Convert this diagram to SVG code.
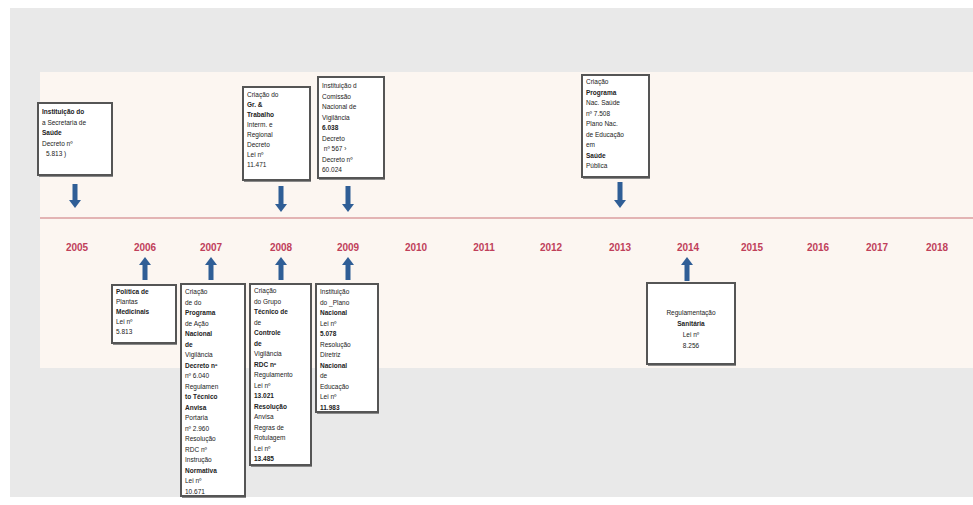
<svg xmlns="http://www.w3.org/2000/svg" width="973" height="505" viewBox="0 0 973 505">
<style>
.yr{font-family:"Liberation Sans",Arial,sans-serif;font-size:10px;font-weight:bold;fill:#c0405a;text-anchor:middle}
.box{fill:#ffffff;stroke:#555555;stroke-width:2}
.sh{fill:#8a8a8a}
.t{font-family:"Liberation Sans",Arial,sans-serif;font-size:6.5px;fill:#222222}
.b{font-weight:bold}
.arr{fill:#2f5e96}
</style>
<rect x="0" y="0" width="973" height="505" fill="#ffffff"/>
<rect x="10" y="8" width="963" height="489" fill="#e9e9e9"/>
<rect x="40" y="72" width="933" height="296" fill="#fcf6f1"/>
<line x1="40" y1="218" x2="973" y2="218" stroke="#e3b4b4" stroke-width="2"/>
<g id="years">
<text class="yr" x="77" y="251">2005</text>
<text class="yr" x="145" y="251">2006</text>
<text class="yr" x="211" y="251">2007</text>
<text class="yr" x="281" y="251">2008</text>
<text class="yr" x="348" y="251">2009</text>
<text class="yr" x="416" y="251">2010</text>
<text class="yr" x="484" y="251">2011</text>
<text class="yr" x="551" y="251">2012</text>
<text class="yr" x="620" y="251">2013</text>
<text class="yr" x="688" y="251">2014</text>
<text class="yr" x="752" y="251">2015</text>
<text class="yr" x="818" y="251">2016</text>
<text class="yr" x="877" y="251">2017</text>
<text class="yr" x="937" y="251">2018</text>
</g>
<g id="connectors">
<path class="arr" d="M72.5 184 H77.5 V200 H81 L75 208 L69 200 H72.5 Z"/>
<path class="arr" d="M278.5 186 H283.5 V204 H287 L281 212 L275 204 H278.5 Z"/>
<path class="arr" d="M345.5 186 H350.5 V204 H354 L348 212 L342 204 H345.5 Z"/>
<path class="arr" d="M617.5 182 H622.5 V200 H626 L620 208 L614 200 H617.5 Z"/>
<path class="arr" d="M145 257 L151 265 H147.5 V280 H142.5 V265 H139 Z"/>
<path class="arr" d="M211 257 L217 265 H213.5 V280 H208.5 V265 H205 Z"/>
<path class="arr" d="M281 257 L287 265 H283.5 V280 H278.5 V265 H275 Z"/>
<path class="arr" d="M348 257 L354 265 H350.5 V280 H345.5 V265 H342 Z"/>
<path class="arr" d="M687 257 L693 265 H689.5 V281 H684.5 V265 H681 Z"/>
</g>
<g id="n2005">
<rect class="sh" x="39" y="174" width="74" height="3"/>
<rect class="box" x="38" y="103" width="74" height="72"/>
<text class="t" x="42" y="114"><tspan class="b">Instituição do</tspan><tspan x="42" dy="10.5">a Secretaria de</tspan><tspan x="42" dy="10.5" class="b">Saúde</tspan><tspan x="42" dy="10.5">Decreto nº</tspan><tspan x="46" dy="10.5">5.813 )</tspan></text>
</g>
<g id="n2008top">
<rect class="sh" x="244" y="179" width="67" height="3"/>
<rect class="box" x="243" y="87" width="67" height="93"/>
<text class="t" x="247" y="97"><tspan>Criação do</tspan><tspan x="247" dy="10" class="b">Gr. &amp;</tspan><tspan x="247" dy="10" class="b">Trabalho</tspan><tspan x="247" dy="10">Interm. e</tspan><tspan x="247" dy="10">Regional</tspan><tspan x="247" dy="10">Decreto</tspan><tspan x="247" dy="10">Lei nº</tspan><tspan x="247" dy="10">11.471</tspan></text>
</g>
<g id="n2009top">
<rect class="sh" x="319" y="177" width="66" height="3"/>
<rect class="box" x="318" y="77" width="66" height="101"/>
<text class="t" x="322" y="88"><tspan>Instituição d</tspan><tspan x="322" dy="10.5">Comissão</tspan><tspan x="322" dy="10.5">Nacional de</tspan><tspan x="322" dy="10.5">Vigilância</tspan><tspan x="322" dy="10.5" class="b">6.038</tspan><tspan x="322" dy="10.5">Decreto</tspan><tspan x="322" dy="10.5">  nº 567   ›</tspan><tspan x="322" dy="10.5">Decreto nº</tspan><tspan x="322" dy="10.5">60.024</tspan></text>
</g>
<g id="n2013top">
<rect class="sh" x="583" y="176" width="67" height="3"/>
<rect class="box" x="582" y="75" width="67" height="102"/>
<text class="t" x="586" y="84"><tspan>Criação</tspan><tspan x="586" dy="10.5" class="b">Programa</tspan><tspan x="586" dy="10.5">Nac. Saúde</tspan><tspan x="586" dy="10.5">nº 7.508</tspan><tspan x="586" dy="10.5">Plano Nac.</tspan><tspan x="586" dy="10.5">de Educação</tspan><tspan x="586" dy="10.5">em</tspan><tspan x="586" dy="10.5" class="b">Saúde</tspan><tspan x="586" dy="10.5">Pública</tspan></text>
</g>
<g id="n2006">
<rect class="sh" x="113" y="342" width="64" height="3"/>
<rect class="box" x="112" y="285" width="64" height="58"/>
<text class="t" x="116" y="294"><tspan class="b">Política de</tspan><tspan x="116" dy="10">Plantas</tspan><tspan x="116" dy="10" class="b">Medicinais</tspan><tspan x="116" dy="10">Lei nº</tspan><tspan x="116" dy="10">5.813</tspan></text>
</g>
<g id="n2007">
<rect class="sh" x="182" y="495" width="64" height="3"/>
<rect class="box" x="181" y="284" width="64" height="212"/>
<text class="t" x="185" y="294"><tspan>Criação</tspan><tspan x="185" dy="10.5">de do</tspan><tspan x="185" dy="10.5" class="b">Programa</tspan><tspan x="185" dy="10.5">de Ação</tspan><tspan x="185" dy="10.5" class="b">Nacional</tspan><tspan x="185" dy="10.5" class="b">de</tspan><tspan x="185" dy="10.5">Vigilância</tspan><tspan x="185" dy="10.5" class="b">Decreto nº</tspan><tspan x="185" dy="10.5">nº 6.040</tspan><tspan x="185" dy="10.5">Regulamen</tspan><tspan x="185" dy="10.5" class="b">to Técnico</tspan><tspan x="185" dy="10.5" class="b">Anvisa</tspan><tspan x="185" dy="10.5">Portaria</tspan><tspan x="185" dy="10.5">nº 2.960</tspan><tspan x="185" dy="10.5">Resolução</tspan><tspan x="185" dy="10.5">RDC nº</tspan><tspan x="185" dy="10.5">Instrução</tspan><tspan x="185" dy="10.5" class="b">Normativa</tspan><tspan x="185" dy="10.5">Lei nº</tspan><tspan x="185" dy="10.5">10.671</tspan></text>
</g>
<g id="n2008">
<rect class="sh" x="251" y="464" width="61" height="3"/>
<rect class="box" x="250" y="284" width="61" height="181"/>
<text class="t" x="254" y="293"><tspan>Criação</tspan><tspan x="254" dy="10.5">do Grupo</tspan><tspan x="254" dy="10.5" class="b">Técnico de</tspan><tspan x="254" dy="10.5">de</tspan><tspan x="254" dy="10.5" class="b">Controle</tspan><tspan x="254" dy="10.5" class="b">de</tspan><tspan x="254" dy="10.5">Vigilância</tspan><tspan x="254" dy="10.5" class="b">RDC nº</tspan><tspan x="254" dy="10.5">Regulamento</tspan><tspan x="254" dy="10.5">Lei nº</tspan><tspan x="254" dy="10.5" class="b">13.021</tspan><tspan x="254" dy="10.5" class="b">Resolução</tspan><tspan x="254" dy="10.5">Anvisa</tspan><tspan x="254" dy="10.5">Regras de</tspan><tspan x="254" dy="10.5">Rotulagem</tspan><tspan x="254" dy="10.5">Lei nº</tspan><tspan x="254" dy="10.5" class="b">13.485</tspan></text>
</g>
<g id="n2009">
<rect class="sh" x="317" y="411" width="62" height="3"/>
<rect class="box" x="316" y="284" width="62" height="128"/>
<text class="t" x="320" y="294"><tspan>Instituição</tspan><tspan x="320" dy="10.5">do _Plano</tspan><tspan x="320" dy="10.5" class="b">Nacional</tspan><tspan x="320" dy="10.5">Lei nº</tspan><tspan x="320" dy="10.5" class="b">5.078</tspan><tspan x="320" dy="10.5">Resolução</tspan><tspan x="320" dy="10.5">Diretriz</tspan><tspan x="320" dy="10.5" class="b">Nacional</tspan><tspan x="320" dy="10.5">de</tspan><tspan x="320" dy="10.5">Educação</tspan><tspan x="320" dy="10.5">Lei nº</tspan><tspan x="320" dy="10.5" class="b">11.983</tspan></text>
</g>
<g id="n2014">
<rect class="sh" x="648" y="363" width="88" height="3"/>
<rect class="box" x="647" y="283" width="88" height="81"/>
<text class="t" x="691" y="315" text-anchor="middle"><tspan>Regulamentação</tspan><tspan x="691" dy="11" class="b">Sanitária</tspan><tspan x="691" dy="11">Lei nº</tspan><tspan x="691" dy="11">8.256</tspan></text>
</g>
</svg>
